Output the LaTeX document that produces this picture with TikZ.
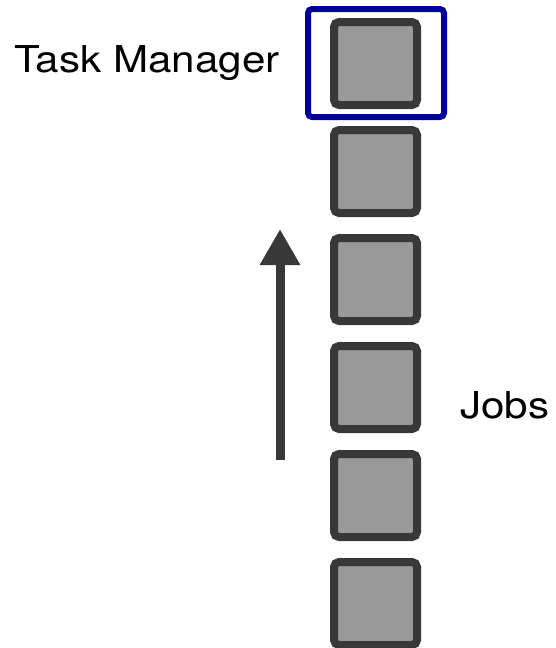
\documentclass[tikz,border=0pt]{standalone}
\usepackage{fontspec}
\setmainfont{TeX Gyre Heros}
\usetikzlibrary{positioning,arrows.meta}
\definecolor{jobfill}{HTML}{999999}
\definecolor{jobedge}{HTML}{383838}
\definecolor{managerblue}{HTML}{00009A}
\begin{document}
\begin{tikzpicture}[
            x=1pt, y=-1pt,
            node distance=17pt,
            job/.style={draw=jobedge, fill=jobfill, line width=8pt,
                rounded corners=5pt, minimum size=83pt, inner sep=0pt},
            manager/.style={draw=managerblue, line width=6pt, rounded corners=4pt,
                minimum width=136pt, minimum height=108pt, inner sep=0pt},
            label/.style={inner sep=0pt, font=\fontsize{37}{40}\selectfont}
        ]
            \useasboundingbox (0,0) rectangle (555,648);
            \node[job] (job1) at (375.5,63.5) {};
            \node[job, below=of job1] (job2) {};
            \node[job, below=of job2] (job3) {};
            \node[job, below=of job3] (job4) {};
            \node[job, below=of job4] (job5) {};
            \node[job, below=of job5] (job6) {};
            \node[manager] (manager) at (376,63) {};
            \node[label, anchor=base west] (managertext) at (14,72) {\scalebox{1.14}[1]{Task Manager}};
            \node[label, anchor=base west] (jobstext) at (460,418) {\scalebox{1.14}[1]{Jobs}};
            \coordinate (queuetail) at (280,460);
            \coordinate (queuehead) at (280,229);
            \draw[jobedge, line width=9pt, -{Triangle[length=36pt, width=38pt]}]
                (queuetail) -- (queuehead);
        \end{tikzpicture}
\end{document}
